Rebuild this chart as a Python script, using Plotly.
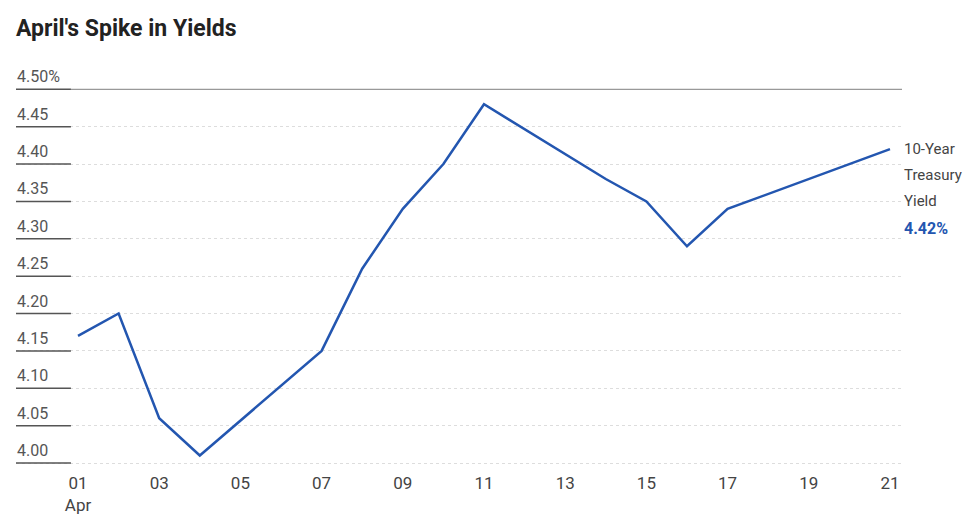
import plotly.graph_objects as go

dates = ["2025-04-01", "2025-04-02", "2025-04-03", "2025-04-04", "2025-04-07",
         "2025-04-08", "2025-04-09", "2025-04-10", "2025-04-11", "2025-04-14",
         "2025-04-15", "2025-04-16", "2025-04-17", "2025-04-21"]
yields = [4.17, 4.20, 4.06, 4.01, 4.15, 4.26, 4.34, 4.40, 4.48, 4.38,
          4.35, 4.29, 4.34, 4.42]

x_tick_vals = ["2025-04-01", "2025-04-03", "2025-04-05", "2025-04-07", "2025-04-09",
               "2025-04-11", "2025-04-13", "2025-04-15", "2025-04-17", "2025-04-19",
               "2025-04-21"]
x_tick_text = ["01<br>Apr", "03", "05", "07", "09", "11", "13", "15", "17", "19", "21"]
y_tick_vals = [4.00, 4.05, 4.10, 4.15, 4.20, 4.25, 4.30, 4.35, 4.40, 4.45, 4.50]
y_tick_text = ["4.00", "4.05", "4.10", "4.15", "4.20", "4.25", "4.30", "4.35",
               "4.40", "4.45", "4.50%"]

FONT = "Roboto, sans-serif"
BLUE = "#2356b0"

fig = go.Figure()
fig.add_trace(go.Scatter(x=dates, y=yields, mode="lines",
                         line=dict(color=BLUE, width=2.5), hoverinfo="skip"))

shapes = []
for v in y_tick_vals:
    shapes.append(dict(type="line", xref="paper", yref="y", x0=0, x1=0.062, y0=v, y1=v,
                       line=dict(color="#555555", width=1.5), layer="above"))
shapes.append(dict(type="line", xref="paper", yref="y", x0=0.062, x1=1, y0=4.5, y1=4.5,
                   line=dict(color="#999999", width=1.2), layer="above"))

ann = []
for v, t in zip(y_tick_vals, y_tick_text):
    ann.append(dict(xref="paper", yref="y", x=0, y=v, xanchor="left", yanchor="bottom",
                    xshift=-1, yshift=1, text=t, showarrow=False,
                    font=dict(family=FONT, size=16, color="#555555")))

last = yields[-1]
labels = ["10-Year", "Treasury", "Yield"]
for i, t in enumerate(labels):
    ann.append(dict(xref="paper", yref="y", x=1, y=last, xanchor="left", yanchor="middle",
                    xshift=0, yshift=-26 * i, text=t, showarrow=False,
                    font=dict(family=FONT, size=15, color="#444444")))
ann.append(dict(xref="paper", yref="y", x=1, y=last, xanchor="left", yanchor="middle",
                xshift=0, yshift=-79, text=f"<b>{last:.2f}%</b>", showarrow=False,
                font=dict(family=FONT, size=16, color=BLUE)))

fig.update_layout(
    width=967, height=513,
    margin=dict(l=8, r=73, t=77, b=54, autoexpand=False),
    paper_bgcolor="white", plot_bgcolor="white",
    showlegend=False,
    title=dict(text="<b>April's Spike in Yields</b>", x=0, xref="paper", xanchor="left",
               y=1 - 20 / 513, yref="container", yanchor="middle",
               font=dict(family=FONT, size=23, color="#222222")),
    font=dict(family=FONT, size=16, color="#444444"),
    shapes=shapes,
    annotations=ann,
)
fig.update_xaxes(type="date", range=["2025-03-30 11:21", "2025-04-21 07:06"],
                 tickvals=x_tick_vals, ticktext=x_tick_text, showgrid=False,
                 showline=False, zeroline=False, ticks="", ticklabelstandoff=4,
                 automargin=False,
                 tickfont=dict(family=FONT, size=17, color="#444444"))
fig.update_yaxes(range=[3.99465, 4.50575], tickvals=y_tick_vals, showticklabels=False,
                 showgrid=True, gridcolor="#dddddd", automargin=False,
                 griddash="dot", gridwidth=1, zeroline=False, showline=False, ticks="")

fig.write_html("out.html")
